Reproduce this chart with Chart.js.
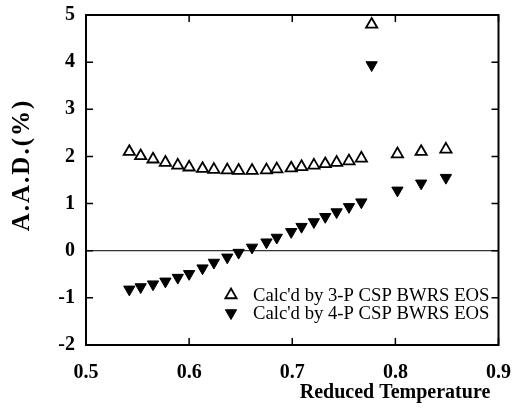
<!DOCTYPE html>
<html>
<head>
<meta charset="utf-8">
<script src="https://cdn.jsdelivr.net/npm/chart.js@4.4.0/dist/chart.umd.min.js"></script>
<style>
  html, body { margin: 0; padding: 0; background: #fff; }
  #wrap { width: 519px; height: 410px; }
</style>
</head>
<body>
<div id="wrap"><canvas id="aad-chart" width="519" height="410"></canvas></div>
<script>
// values
const reducedTemp = [0.542, 0.553, 0.565, 0.577, 0.589, 0.600, 0.613, 0.624, 0.637, 0.648, 0.661, 0.675,
  0.685, 0.699, 0.709, 0.721, 0.732, 0.743, 0.755, 0.767, 0.777, 0.802, 0.825, 0.849];
const aad3P = [2.10, 2.01, 1.94, 1.87, 1.81, 1.77, 1.74, 1.72, 1.71, 1.70, 1.70, 1.71,
  1.73, 1.75, 1.78, 1.81, 1.84, 1.87, 1.90, 1.96, 4.80, 2.05, 2.10, 2.15];
const aad4P = [-0.82, -0.77, -0.71, -0.65, -0.57, -0.49, -0.37, -0.25, -0.14, -0.04, 0.07, 0.18,
  0.28, 0.40, 0.51, 0.61, 0.72, 0.82, 0.93, 1.03, 3.94, 1.28, 1.43, 1.55];
const xTicks = [0.5, 0.6, 0.7, 0.8, 0.9];
const yTicks = [-2, -1, 0, 1, 2, 3, 4, 5];
const seriesLabels = ["Calc'd by 3-P CSP BWRS EOS", "Calc'd by 4-P CSP BWRS EOS"];
const xTitle = "Reduced Temperature";
const yTitle = "A.A.D.(%)";

const serif = "'Liberation Serif', 'DejaVu Serif', serif";

const toPoints = (vals) => vals.map((v, i) => ({ x: reducedTemp[i], y: v }));

const datasets = [
  {
    label: seriesLabels[0],
    data: toPoints(aad3P),
    pointStyle: "triangle",
    pointRadius: 6.5,
    pointBorderWidth: 1.8,
    borderColor: "#000",
    backgroundColor: "rgba(0,0,0,0)",
    rotation: 0,
  },
  {
    label: seriesLabels[1],
    data: toPoints(aad4P),
    pointStyle: "triangle",
    pointRadius: 6.5,
    pointBorderWidth: 1,
    borderColor: "#000",
    backgroundColor: "#000",
    rotation: 180,
  },
];

// frame, inward ticks, zero line, titles and legend
const framePlugin = {
  id: "frame",
  beforeDatasetsDraw(chart) {
    const { ctx, chartArea: a, scales } = chart;
    const y0 = scales.y.getPixelForValue(0);
    ctx.save();
    ctx.strokeStyle = "#000";
    ctx.lineWidth = 1;
    ctx.beginPath();
    ctx.moveTo(a.left, y0);
    ctx.lineTo(a.right, y0);
    ctx.stroke();
    ctx.restore();
  },
  afterDraw(chart) {
    const { ctx, chartArea: a, scales } = chart;
    const tick = 7;
    ctx.save();
    ctx.strokeStyle = "#000";
    ctx.lineWidth = 2;
    ctx.strokeRect(a.left, a.top, a.right - a.left, a.bottom - a.top);

    ctx.lineWidth = 1.5;
    ctx.beginPath();
    xTicks.forEach((v) => {
      const px = scales.x.getPixelForValue(v);
      ctx.moveTo(px, a.bottom);
      ctx.lineTo(px, a.bottom - tick);
      ctx.moveTo(px, a.top);
      ctx.lineTo(px, a.top + tick);
    });
    yTicks.forEach((v) => {
      const py = scales.y.getPixelForValue(v);
      ctx.moveTo(a.left, py);
      ctx.lineTo(a.left + tick, py);
      ctx.moveTo(a.right, py);
      ctx.lineTo(a.right - tick, py);
    });
    ctx.stroke();

    // axis titles
    ctx.fillStyle = "#000";
    ctx.font = "bold 20px " + serif;
    ctx.textAlign = "center";
    ctx.textBaseline = "middle";
    ctx.fillText(xTitle, a.left + 309, a.bottom + 48);
    ctx.save();
    ctx.translate(23, a.top + 150);
    ctx.rotate(-Math.PI / 2);
    ctx.font = "bold 25px " + serif;
    ctx.letterSpacing = "2px";
    ctx.fillText(yTitle, 0, 0);
    ctx.restore();

    // legend inside the plot
    const lx = a.left + 145;
    const rows = [a.top + 280, a.top + 298];
    ctx.font = "18.7px " + serif;
    ctx.textAlign = "left";
    datasets.forEach((ds, i) => {
      ctx.strokeStyle = ds.borderColor;
      ctx.fillStyle = ds.backgroundColor;
      ctx.lineWidth = ds.pointBorderWidth;
      Chart.helpers.drawPoint(ctx, {
        pointStyle: ds.pointStyle,
        radius: ds.pointRadius,
        rotation: ds.rotation,
        borderWidth: ds.pointBorderWidth,
      }, lx, rows[i]);
      ctx.fillStyle = "#000";
      ctx.fillText(ds.label, lx + 22, rows[i] + 1);
    });
    ctx.restore();
  },
};

new Chart(document.getElementById("aad-chart"), {
  type: "scatter",
  data: { datasets },
  options: {
    responsive: false,
    animation: false,
    devicePixelRatio: 1,
    layout: { padding: { top: 15, right: 18, left: 0, bottom: 0 } },
    plugins: {
      legend: { display: false },
      tooltip: { enabled: false },
    },
    scales: {
      x: {
        type: "linear",
        min: 0.5,
        max: 0.9,
        afterBuildTicks: (s) => { s.ticks = xTicks.map((v) => ({ value: v })); },
        afterFit: (s) => { s.height = 65; },
        grid: { display: false },
        border: { display: false },
        ticks: {
          color: "#000",
          padding: 8,
          font: { family: serif, size: 20, weight: "bold" },
          callback: (v) => Number(v).toFixed(1),
        },
      },
      y: {
        type: "linear",
        min: -2,
        max: 5,
        afterBuildTicks: (s) => { s.ticks = yTicks.map((v) => ({ value: v })); },
        afterFit: (s) => { s.width = 86; },
        grid: { display: false },
        border: { display: false },
        ticks: {
          color: "#000",
          padding: 3,
          font: { family: serif, size: 20, weight: "bold" },
        },
      },
    },
  },
  plugins: [framePlugin],
});
</script>
</body>
</html>
